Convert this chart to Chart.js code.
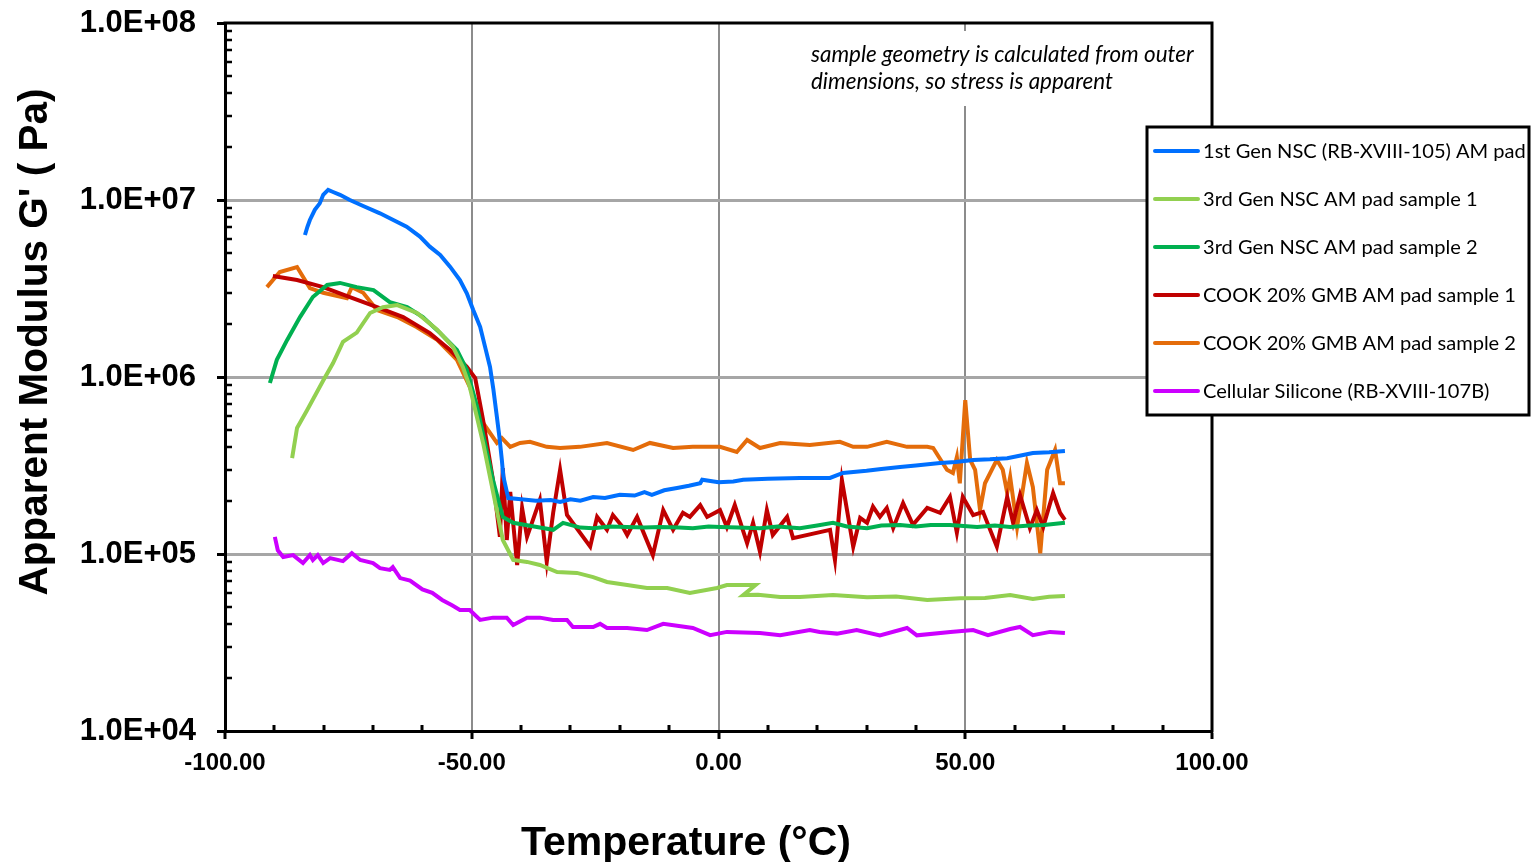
<!DOCTYPE html>
<html><head><meta charset="utf-8">
<script src="https://cdn.jsdelivr.net/npm/chart.js@4.4.0/dist/chart.umd.min.js"></script>
<style>html,body{margin:0;padding:0;background:#fff;} canvas{display:block;}</style>
</head><body>
<canvas id="c" width="1532" height="862"></canvas>
<script>
// ---------- tick labels ----------
const xTickValues = [-100, -50, 0, 50, 100];
const xTickLabels = ['-100.00', '-50.00', '0.00', '50.00', '100.00'];
const yTickValues = [1e4, 1e5, 1e6, 1e7, 1e8];
const yTickLabels = ['1.0E+04', '1.0E+05', '1.0E+06', '1.0E+07', '1.0E+08'];

// ---------- series names ----------
const seriesNames = [
  '1st Gen NSC (RB-XVIII-105) AM pad',
  '3rd Gen NSC AM pad sample 1',
  '3rd Gen NSC AM pad sample 2',
  'COOK 20% GMB AM pad sample 1',
  'COOK 20% GMB AM pad sample 2',
  'Cellular Silicone (RB-XVIII-107B)'
];

// ---------- 1st Gen NSC ----------
const gen1T = [-83.8,-83.3,-82.8,-81.8,-80.8,-80.1,-79.1,-78.1,-76.7,-74.7,-72.0,-68.6,-65.9,-63.2,-60.5,-58.5,-56.4,-54.4,-52.4,-51.0,-49.7,-48.3,-47.3,-46.3,-45.6,-45.0,-44.4,-43.9,-43.6,-42.6,-40,-37,-34,-32.1,-30,-28,-25.4,-23,-20,-17,-15,-13.5,-11,-8.4,-6,-3.7,-3.3,0,3,5,10,16.5,22.6,25.2,30,33,36.8,40,44.9,48,51.6,55,58.5,61,63.7,67,70.2];
const gen1G = [6.34e6,7.06e6,7.71e6,8.79e6,9.57e6,1.07e7,1.14e7,1.11e7,1.07e7,1.0e7,9.25e6,8.41e6,7.71e6,7.06e6,6.21e6,5.45e6,4.89e6,4.20e6,3.53e6,2.97e6,2.39e6,1.92e6,1.48e6,1.14e6,8.45e5,6.24e5,4.60e5,3.40e5,2.74e5,2.07e5,2.04e5,2.0e5,2.02e5,1.97e5,2.04e5,2.0e5,2.10e5,2.07e5,2.16e5,2.14e5,2.24e5,2.16e5,2.29e5,2.36e5,2.43e5,2.51e5,2.63e5,2.54e5,2.57e5,2.63e5,2.66e5,2.69e5,2.69e5,2.87e5,2.95e5,3.02e5,3.10e5,3.16e5,3.27e5,3.31e5,3.40e5,3.43e5,3.48e5,3.59e5,3.72e5,3.76e5,3.82e5];

// ---------- 3rd Gen NSC sample 1 ----------
const gen3aT = [-86.4,-85.4,-83.4,-80.1,-78.1,-76.1,-73.3,-70.6,-68.0,-65.1,-61.1,-57.0,-53.8,-51.8,-50.4,-47.7,-43.7,-41.6,-38.8,-36.2,-32.7,-28.7,-25.4,-22.6,-18.5,-14.5,-10.4,-5.8,-0.3,1.7,7.5,5.0,8,12.5,16.5,23.2,30.1,36,42.3,49,54,59.1,63.7,67,70.2];
const gen3aG = [3.48e5,5.15e5,6.46e5,9.55e5,1.20e6,1.58e6,1.78e6,2.30e6,2.48e6,2.55e6,2.30e6,1.85e6,1.48e6,1.14e6,8.79e5,4.24e5,1.20e5,9.25e4,9.02e4,8.67e4,7.91e4,7.82e4,7.41e4,6.95e4,6.68e4,6.43e4,6.43e4,6.03e4,6.43e4,6.68e4,6.68e4,5.86e4,5.89e4,5.71e4,5.71e4,5.86e4,5.69e4,5.75e4,5.50e4,5.62e4,5.65e4,5.86e4,5.57e4,5.73e4,5.79e4];

// ---------- 3rd Gen NSC sample 2 ----------
const gen3bT = [-90.9,-89.5,-87.4,-84.8,-82.2,-79.3,-76.7,-73.3,-69.9,-66.6,-63.1,-59.9,-56.4,-53.0,-51.0,-48.9,-45.7,-43.7,-41.6,-36.8,-33.5,-31.5,-28,-25.4,-22,-18.5,-15,-11.9,-8,-5.2,-2,0.3,4,8.4,12,16.5,20,23.2,26,30.1,33,36.8,40,43,46.9,52.4,56,59.1,63,66,70.2];
const gen3bG = [9.25e5,1.25e6,1.62e6,2.18e6,2.83e6,3.31e6,3.40e6,3.22e6,3.10e6,2.65e6,2.48e6,2.18e6,1.77e6,1.42e6,1.10e6,6.78e5,2.62e5,1.62e5,1.50e5,1.42e5,1.37e5,1.50e5,1.41e5,1.40e5,1.43e5,1.42e5,1.41e5,1.42e5,1.41e5,1.40e5,1.43e5,1.42e5,1.41e5,1.40e5,1.43e5,1.40e5,1.45e5,1.50e5,1.43e5,1.40e5,1.45e5,1.46e5,1.43e5,1.46e5,1.46e5,1.42e5,1.45e5,1.42e5,1.45e5,1.46e5,1.50e5];

// ---------- COOK 20% GMB sample 1 ----------
const cook1T = [-90.3,-85.4,-80.1,-74.7,-69.2,-63.9,-58.5,-54.4,-51.0,-49.3,-47.7,-45.7,-44.3,-43.7,-42.9,-42.2,-40.8,-39.8,-38.8,-37.6,-36.2,-34.8,-33.5,-32.1,-30.7,-26.0,-24.6,-22.6,-21.4,-19.4,-18.5,-16.5,-13.3,-11.2,-9.2,-7.2,-5.8,-3.7,-2.3,0.3,1.7,3.3,5.8,7.0,8.4,9.8,11.0,13.9,15.1,22.6,23.6,25.0,27.3,28.7,30.1,31.3,32.7,34.1,35.4,37.4,39.4,42.3,44.9,46.9,48.3,49.5,51.6,53.6,56.4,58.5,59.7,61.1,63.1,64.5,65.8,67.8,69.2,70.2];
const cook1G = [3.72e6,3.53e6,3.22e6,2.83e6,2.48e6,2.18e6,1.77e6,1.42e6,1.14e6,9.86e5,5.71e5,2.62e5,1.25e5,3.06e5,1.20e5,2.24e5,8.67e4,1.82e5,1.25e5,1.56e5,2.02e5,9.02e4,1.71e5,2.99e5,1.66e5,1.10e5,1.62e5,1.37e5,1.66e5,1.42e5,1.28e5,1.62e5,9.86e4,1.77e5,1.37e5,1.71e5,1.62e5,1.89e5,1.62e5,1.77e5,1.42e5,1.89e5,1.15e5,1.50e5,1.03e5,1.77e5,1.28e5,1.62e5,1.23e5,1.37e5,9.25e4,2.62e5,1.10e5,1.60e5,1.50e5,1.85e5,1.62e5,1.82e5,1.40e5,1.94e5,1.46e5,1.82e5,1.71e5,2.10e5,1.32e5,2.10e5,1.66e5,1.73e5,1.10e5,2.10e5,1.50e5,2.15e5,1.40e5,1.77e5,1.42e5,2.21e5,1.71e5,1.56e5];

// ---------- COOK 20% GMB sample 2 ----------
const cook2T = [-91.5,-88.9,-85.4,-82.8,-80.1,-75.3,-74.3,-72.0,-69.2,-65.1,-61.1,-57.0,-53.0,-50.4,-47.7,-44.9,-43.9,-42.2,-40.2,-38.2,-34.8,-32.1,-28.1,-22.6,-17.3,-13.9,-9.2,-5.2,0.3,3.7,5.8,8.4,12.5,18.5,24.6,27.3,30.1,34.1,38.2,42.3,43.5,46.3,47.5,48.3,48.9,50.0,51.0,52.0,53.0,54.0,56.4,57.6,58.5,59.1,60.5,62.5,63.7,65.2,66.6,68.2,69.2,70.2];
const cook2G = [3.22e6,3.92e6,4.18e6,3.18e6,2.99e6,2.79e6,3.22e6,2.99e6,2.39e6,2.18e6,1.91e6,1.62e6,1.25e6,8.79e5,5.50e5,4.24e5,4.52e5,4.03e5,4.24e5,4.30e5,4.03e5,3.97e5,4.03e5,4.24e5,3.87e5,4.24e5,3.97e5,4.03e5,4.03e5,3.77e5,4.41e5,3.97e5,4.24e5,4.13e5,4.30e5,4.03e5,4.03e5,4.30e5,4.03e5,4.03e5,3.97e5,2.99e5,2.87e5,3.53e5,2.51e5,7.41e5,3.40e5,2.99e5,1.77e5,2.51e5,3.40e5,2.99e5,2.21e5,2.72e5,1.42e5,3.27e5,2.39e5,1.01e5,2.99e5,3.87e5,2.51e5,2.51e5];

// ---------- Cellular Silicone ----------
const siliconeT = [-89.9,-89.3,-88.2,-86.2,-84.2,-82.8,-82.2,-81.2,-80.1,-78.7,-76.1,-74.3,-72.6,-70.0,-68.6,-66.6,-66.0,-64.5,-62.5,-60,-58,-56,-54,-52.4,-50.4,-48.3,-45.7,-42.9,-41.6,-38.8,-36.2,-33.5,-30.7,-29.5,-25.4,-24.0,-22.6,-18.5,-14.5,-11.2,-5.2,-1.7,1.7,8.4,12.5,18.5,20.5,24,28,32.7,38.2,40.2,47,51.6,54.6,59.1,61.1,63.7,67.2,70.2];
const siliconeG = [1.25e5,1.05e5,9.62e4,9.86e4,8.89e4,9.86e4,9.25e4,9.86e4,8.89e4,9.48e4,9.12e4,1.01e5,9.25e4,8.89e4,8.32e4,8.13e4,8.43e4,7.31e4,7.08e4,6.31e4,6.03e4,5.50e4,5.13e4,4.83e4,4.83e4,4.24e4,4.37e4,4.37e4,3.97e4,4.37e4,4.37e4,4.24e4,4.24e4,3.87e4,3.87e4,4.03e4,3.82e4,3.82e4,3.72e4,4.03e4,3.82e4,3.48e4,3.63e4,3.58e4,3.48e4,3.72e4,3.63e4,3.55e4,3.72e4,3.47e4,3.82e4,3.47e4,3.63e4,3.72e4,3.48e4,3.77e4,3.87e4,3.48e4,3.63e4,3.58e4];

const seriesT = [gen1T, gen3aT, gen3bT, cook1T, cook2T, siliconeT];
const seriesG = [gen1G, gen3aG, gen3bG, cook1G, cook2G, siliconeG];
const seriesColors = ['#0070FF', '#92D050', '#00B050', '#C00000', '#E46C0A', '#CC00FF'];

const noteLines = ['sample geometry is calculated from outer', 'dimensions, so stress is apparent'];
const xTitle = 'Temperature (°C)';
const yTitle = "Apparent Modulus G' ( Pa)";

const datasets = seriesNames.map((name, i) => ({
  label: name,
  data: seriesT[i].map((t, k) => ({x: t, y: seriesG[i][k]})),
  borderColor: seriesColors[i],
  backgroundColor: seriesColors[i],
  showLine: true,
  pointRadius: 0,
  borderWidth: 4,
  tension: 0,
  fill: false
}));

function fitSize(ctx, text, style, weight, family, target) {
  ctx.font = `${style} ${weight} 100px ${family}`;
  return 100 * target / ctx.measureText(text).width;
}

const decor = {
  id: 'decor',
  afterDraw(chart) {
    const ctx = chart.ctx;
    const {left, right, top, bottom} = chart.chartArea;
    const xs = chart.scales.x, ys = chart.scales.y;
    ctx.save();
    // top & right frame
    ctx.strokeStyle = '#000';
    ctx.lineWidth = 3;
    ctx.beginPath();
    ctx.moveTo(left - 1.5, top); ctx.lineTo(right + 1.5, top);
    ctx.moveTo(right, top); ctx.lineTo(right, bottom + 1.5);
    ctx.stroke();
    // minor ticks on y (inside)
    ctx.lineWidth = 2.5;
    ctx.beginPath();
    for (let d = 4; d < 8; d++) {
      for (let m = 2; m <= 9; m++) {
        const py = Math.round(ys.getPixelForValue(m * Math.pow(10, d)));
        ctx.moveTo(left, py); ctx.lineTo(left + 7, py);
      }
    }
    ctx.stroke();
    // minor ticks on x (inside)
    ctx.lineWidth = 3;
    ctx.beginPath();
    for (let t = -90; t <= 90; t += 10) {
      if (t % 50 === 0) continue;
      const px = Math.round(xs.getPixelForValue(t));
      ctx.moveTo(px, bottom); ctx.lineTo(px, bottom - 6);
    }
    ctx.stroke();

    // note box
    ctx.fillStyle = '#fff';
    ctx.fillRect(805, 31, 397, 75);
    ctx.fillStyle = '#000';
    const noteSize = fitSize(ctx, noteLines[0], 'italic', 'normal', 'Lato', 383);
    ctx.font = `italic normal ${noteSize}px Lato`;
    ctx.textAlign = 'left';
    ctx.textBaseline = 'alphabetic';
    ctx.fillText(noteLines[0], 811, 62);
    ctx.fillText(noteLines[1], 811, 89);

    // legend
    const lx = 1147, ly = 127, lw = 382, lh = 288;
    ctx.fillStyle = '#fff';
    ctx.fillRect(lx, ly, lw, lh);
    ctx.strokeStyle = '#000';
    ctx.lineWidth = 3;
    ctx.strokeRect(lx, ly, lw, lh);
    const legSize = fitSize(ctx, seriesNames[0], 'normal', 'normal', 'Lato', 323);
    ctx.font = `normal normal ${legSize}px Lato`;
    chart.data.datasets.forEach((ds, i) => {
      const cy = 151 + 48 * i;
      ctx.strokeStyle = ds.borderColor;
      ctx.lineWidth = 4;
      ctx.lineCap = 'round';
      ctx.beginPath();
      ctx.moveTo(1155, cy); ctx.lineTo(1198, cy);
      ctx.stroke();
      ctx.fillStyle = '#000';
      ctx.fillText(ds.label, 1203, cy + 6.5);
    });

    // axis titles
    ctx.fillStyle = '#000';
    const xs2 = fitSize(ctx, xTitle, 'normal', 'bold', '"Liberation Sans", Arial', 330);
    ctx.font = `normal bold ${xs2}px "Liberation Sans", Arial`;
    ctx.textAlign = 'center';
    ctx.fillText(xTitle, 686, 855);
    const ys2 = fitSize(ctx, yTitle, 'normal', 'bold', '"Liberation Sans", Arial', 507);
    ctx.font = `normal bold ${ys2}px "Liberation Sans", Arial`;
    ctx.translate(47, 342);
    ctx.rotate(-Math.PI / 2);
    ctx.fillText(yTitle, 0, 0);
    ctx.restore();
  }
};

new Chart(document.getElementById('c'), {
  type: 'scatter',
  data: {datasets},
  options: {
    responsive: false,
    animation: false,
    devicePixelRatio: 1,
    layout: {padding: {top: 23, right: 320, left: 0, bottom: 0}},
    plugins: {legend: {display: false}, tooltip: {enabled: false}},
    scales: {
      x: {
        type: 'linear', min: -100, max: 100,
        afterFit(s) { s.height = 131; s.paddingLeft = 0; s.paddingRight = 0; },
        afterBuildTicks(s) { s.ticks = xTickValues.map(v => ({value: v})); },
        ticks: {
          callback: (v, i) => xTickLabels[i],
          font: {family: '"Liberation Sans", Arial', weight: 'bold', size: 24},
          color: '#000', padding: 10, maxRotation: 0, autoSkip: false
        },
        grid: {
          color: c => (c.tick && (c.tick.value === -100 || c.tick.value === 100)) ? 'rgba(0,0,0,0)' : '#8c8c8c',
          lineWidth: 2, drawTicks: true, tickLength: 8, tickWidth: 3, tickColor: '#000'
        },
        border: {display: true, color: '#000', width: 3}
      },
      y: {
        type: 'logarithmic', min: 1e4, max: 1e8,
        afterFit(s) { s.width = 225; s.paddingTop = 0; s.paddingBottom = 0; },
        afterBuildTicks(s) { s.ticks = yTickValues.map(v => ({value: v})); },
        ticks: {
          callback: (v, i) => yTickLabels[i],
          font: {family: '"Liberation Sans", Arial', weight: 'bold', size: 31},
          color: '#000', padding: 21, autoSkip: false
        },
        grid: {
          color: c => (c.tick && (c.tick.value === 1e4 || c.tick.value === 1e8)) ? 'rgba(0,0,0,0)' : '#a6a6a6',
          lineWidth: 3, drawTicks: true, tickLength: 8, tickWidth: 3, tickColor: '#000'
        },
        border: {display: true, color: '#000', width: 3}
      }
    }
  },
  plugins: [decor]
});
</script>
</body></html>
